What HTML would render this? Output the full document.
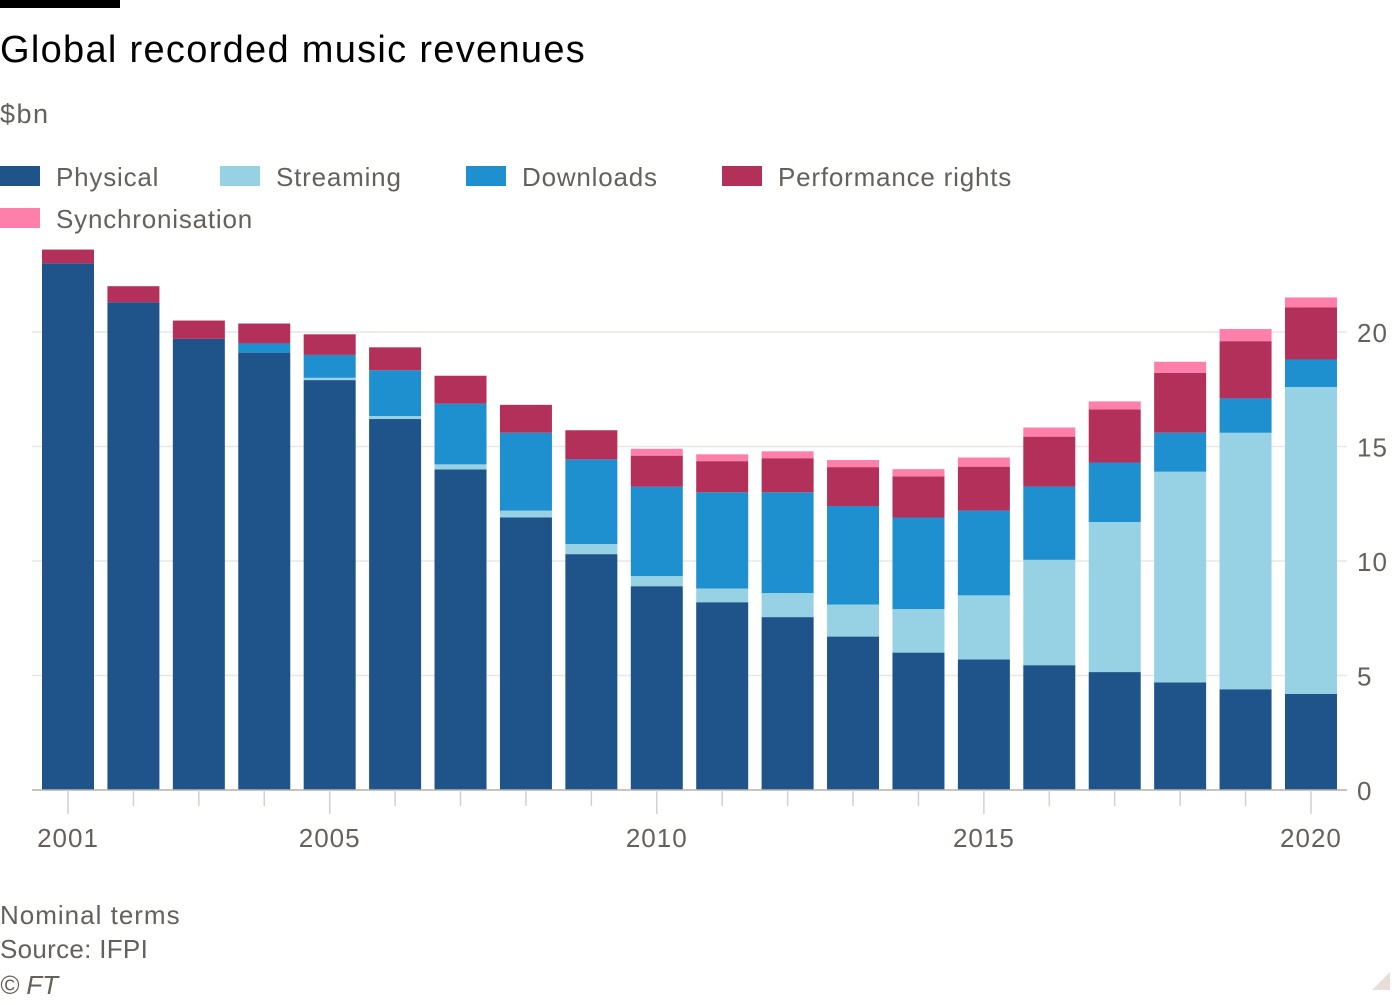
<!DOCTYPE html>
<html><head><meta charset="utf-8"><style>
body{margin:0;background:#fff;font-family:"Liberation Sans",sans-serif;}
svg text{font-family:"Liberation Sans",sans-serif;}
</style></head><body>
<svg width="1400" height="1000" xmlns="http://www.w3.org/2000/svg">
<rect x="0" y="0" width="120" height="8" fill="#000"/>
<text x="0" y="62" font-size="38" letter-spacing="1.3" fill="#000">Global recorded music revenues</text>
<text x="0" y="123" font-size="27" letter-spacing="1.5" fill="#66605c">$bn</text>
<g letter-spacing="0.8">
<g><rect x="0" y="166" width="40" height="20" fill="#1f548b"/><text x="56" y="186" font-size="26" fill="#66605c">Physical</text></g>
<g><rect x="220" y="166" width="40" height="20" fill="#96d2e4"/><text x="276" y="186" font-size="26" fill="#66605c">Streaming</text></g>
<g><rect x="466" y="166" width="40" height="20" fill="#1e8fcf"/><text x="522" y="186" font-size="26" fill="#66605c">Downloads</text></g>
<g><rect x="722" y="166" width="40" height="20" fill="#b3305a"/><text x="778" y="186" font-size="26" fill="#66605c">Performance rights</text></g>
<g><rect x="0" y="208" width="40" height="20" fill="#ff7fab"/><text x="56" y="228" font-size="26" fill="#66605c">Synchronisation</text></g>
</g>
<g id="grid"></g>
<g id="bars"></g>
<g id="xaxis"></g>
<text x="0" y="924" font-size="26" letter-spacing="1" fill="#66605c">Nominal terms</text>
<text x="0" y="958" font-size="26" letter-spacing="0.3" fill="#66605c">Source: IFPI</text>
<text x="0" y="994" font-size="26" fill="#66605c" font-style="italic">© FT</text>
<polygon points="1372,990 1390,972 1390,990" fill="#e8ddd8"/>
</svg>
<script>
const years=[2001,2002,2003,2004,2005,2006,2007,2008,2009,2010,2011,2012,2013,2014,2015,2016,2017,2018,2019,2020];
const physical=[23.0,21.3,19.7,19.1,17.9,16.2,14.0,11.9,10.3,8.9,8.2,7.55,6.7,6.0,5.7,5.45,5.15,4.7,4.4,4.2];
const streaming=[0,0,0,0,0.1,0.13,0.22,0.3,0.44,0.44,0.6,1.05,1.4,1.9,2.8,4.6,6.55,9.2,11.2,13.4];
const downloads=[0,0,0,0.4,1.0,2.0,2.65,3.4,3.7,3.9,4.2,4.4,4.3,4.0,3.7,3.2,2.6,1.7,1.5,1.2];
const performance=[0.6,0.7,0.8,0.87,0.9,1.0,1.22,1.22,1.27,1.36,1.36,1.49,1.7,1.8,1.92,2.18,2.32,2.62,2.5,2.27];
const sync=[0,0,0,0,0,0,0,0,0,0.3,0.3,0.3,0.31,0.31,0.4,0.4,0.35,0.48,0.53,0.44];
const yTicks=[0,5,10,15,20];
const xLabels=[2001,2005,2010,2015,2020];
const NS="http://www.w3.org/2000/svg";
const y=v=>790-v*22.9;
const x=yr=>68+(yr-2001)*65.42;
function mk(tag,at,parent){const e=document.createElementNS(NS,tag);for(const k in at)e.setAttribute(k,at[k]);parent.appendChild(e);return e;}
const grid=document.getElementById('grid'),bars=document.getElementById('bars'),xa=document.getElementById('xaxis');
yTicks.forEach(t=>{
 if(t>0){const l=mk('line',{x1:32,x2:1347,y1:y(t),y2:y(t),stroke:'#ece6e2','stroke-width':1.5},grid);
 
 }
 const tx=mk('text',{x:1357,y:y(t)+10,'font-size':26,fill:'#66605c','letter-spacing':1},grid);tx.textContent=t;
 
 
});
const series=[['physical',physical,'#1f548b'],['streaming',streaming,'#96d2e4'],['downloads',downloads,'#1e8fcf'],['performance-rights',performance,'#b3305a'],['synchronisation',sync,'#ff7fab']];
years.forEach((yr,i)=>{
 let base=0;
 series.forEach(([n,arr,c])=>{
  const v=arr[i];if(v<=0)return;
  const r=mk('rect',{x:x(yr)-26,width:52,y:y(base+v),height:v*22.9,fill:c},bars);
  
  
  base+=v;
 });
});
const ax=mk('line',{x1:32,x2:1347,y1:790,y2:790,stroke:'#b8b0aa','stroke-width':1.5},xa);


years.forEach(yr=>{
 const major=xLabels.includes(yr);
 const t=mk('line',{x1:x(yr),x2:x(yr),y1:790,y2:major?814:806,stroke:'#d6cfca','stroke-width':1.5},xa);
 
 
 if(major){const tx=mk('text',{x:x(yr),y:847,'font-size':26,fill:'#66605c','text-anchor':'middle','letter-spacing':1},xa);tx.textContent=yr;
 
 }
});
</script>
</body></html>
